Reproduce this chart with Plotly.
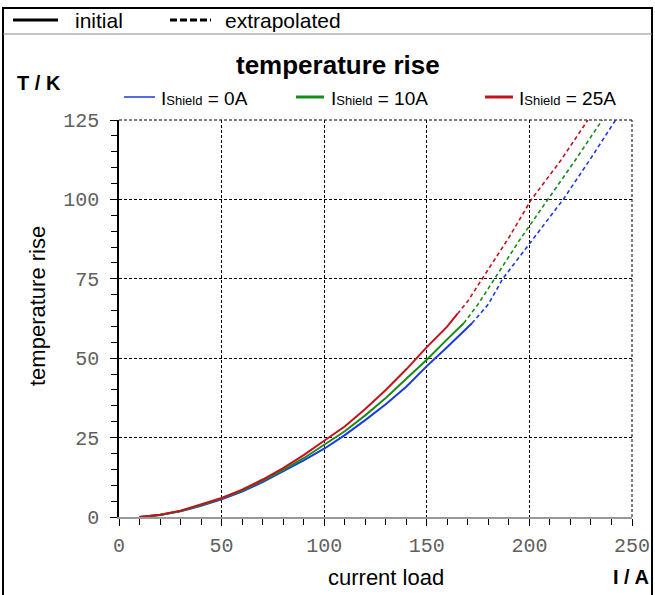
import plotly.graph_objects as go

# ---- data ----
x_init_0 = [10, 20, 30, 40, 50, 60, 70, 80, 90, 100, 110, 120, 130, 140, 150, 160, 172]
y_init_0 = [0, 0.6, 1.8, 3.5, 5.6, 8.0, 11.0, 14.3, 17.8, 21.5, 25.8, 30.5, 35.5, 41.0, 47.5, 53.5, 61.0]
x_extr_0 = [172, 180, 187, 200, 216.5, 230, 242]
y_extr_0 = [61.0, 67.0, 75.0, 86.0, 100.0, 113.0, 125.0]

x_init_10 = [10, 20, 30, 40, 50, 60, 70, 80, 90, 100, 110, 120, 130, 140, 150, 160, 168]
y_init_10 = [0, 0.6, 1.9, 3.7, 5.8, 8.3, 11.4, 14.8, 18.5, 22.7, 27.0, 32.0, 37.5, 43.5, 49.5, 56.0, 61.0]
x_extr_10 = [168, 175, 183, 195, 209, 222, 235.5]
y_extr_10 = [61.0, 67.0, 75.0, 87.0, 100.0, 112.0, 125.0]

x_init_25 = [10, 20, 30, 40, 50, 60, 70, 80, 90, 100, 110, 120, 130, 140, 150, 160, 165]
y_init_25 = [0, 0.7, 2.0, 3.9, 6.0, 8.6, 11.8, 15.4, 19.5, 24.0, 28.5, 34.0, 40.0, 46.5, 53.5, 60.0, 64.0]
x_extr_25 = [165, 170, 177, 190, 201, 215, 228.5]
y_extr_25 = [64.0, 68.0, 75.0, 88.0, 100.0, 112.0, 125.0]

series_names = ["0A", "10A", "25A"]
x_ticks = [0, 50, 100, 150, 200, 250]
y_ticks = [0, 25, 50, 75, 100, 125]

COLORS = ["#1b3be0", "#1a8a1a", "#c4121c"]

W, H = 655, 595
L, R, T, B = 119, 632, 120, 517

def px(x):
    return (x - L) / (R - L)

def py(y):
    return (B - y) / (B - T)

fig = go.Figure()
data = [
    (x_init_0, y_init_0, x_extr_0, y_extr_0),
    (x_init_10, y_init_10, x_extr_10, y_extr_10),
    (x_init_25, y_init_25, x_extr_25, y_extr_25),
]
for (xi, yi, xe, ye), c in zip(data, COLORS):
    fig.add_trace(go.Scatter(x=xe, y=ye, mode="lines", showlegend=False,
                             line=dict(color=c, width=1.6, dash="4px,3px")))
    fig.add_trace(go.Scatter(x=xi, y=yi, mode="lines", showlegend=False,
                             line=dict(color=c, width=2)))

tickfont = dict(family="Liberation Mono", size=20, color="#606060")
fig.update_xaxes(range=[0, 250], tickvals=x_ticks, ticks="outside", ticklen=7,
                 tickcolor="black", showgrid=True, gridcolor="black", griddash="3px,2px",
                 gridwidth=1, showline=True, linecolor="#999999", linewidth=1.5,
                 tickfont=tickfont, zeroline=False, ticklabelstandoff=2, automargin=False,
                 minor=dict(dtick=10, ticks="outside", ticklen=6, tickcolor="black", showgrid=False))
fig.update_yaxes(range=[0, 125], tickvals=y_ticks, ticks="outside", ticklen=7,
                 tickcolor="black", showgrid=True, gridcolor="black", griddash="3px,2px",
                 gridwidth=1, showline=True, linecolor="black", linewidth=1.5,
                 tickfont=tickfont, zeroline=False, ticklabelstandoff=7, automargin=False,
                 minor=dict(dtick=5, ticks="outside", ticklen=6, tickcolor="black", showgrid=False))

shapes = []
# outer frame
shapes.append(dict(type="rect", xref="paper", yref="paper", x0=px(3), x1=px(652), y0=py(8), y1=py(600),
                   line=dict(color="black", width=2), layer="above"))
shapes.append(dict(type="line", xref="paper", yref="paper", x0=px(3), x1=px(652), y0=py(34), y1=py(34),
                   line=dict(color="#888888", width=1)))
# top/right dotted border
shapes.append(dict(type="line", xref="paper", yref="paper", x0=0, x1=1, y0=1, y1=1,
                   line=dict(color="black", width=1, dash="3px,2px")))
shapes.append(dict(type="line", xref="paper", yref="paper", x0=1, x1=1, y0=0, y1=1,
                   line=dict(color="black", width=1, dash="3px,2px")))
# top legend
shapes.append(dict(type="line", xref="paper", yref="paper", x0=px(13), x1=px(58), y0=py(20), y1=py(20),
                   line=dict(color="black", width=3)))
shapes.append(dict(type="line", xref="paper", yref="paper", x0=px(170), x1=px(211), y0=py(20), y1=py(20),
                   line=dict(color="black", width=3, dash="7px,3px")))
# series legend
leg_x = [(124, 155), (296, 324), (485, 513)]
leg_w = [1.5, 3, 3]
for (a, b), c, w in zip(leg_x, COLORS, leg_w):
    shapes.append(dict(type="line", xref="paper", yref="paper", x0=px(a), x1=px(b), y0=py(97), y1=py(97),
                       line=dict(color=c, width=w)))

ann = []
def text(x, y, s, size=16, bold=False, anchor="left", angle=0, font="Liberation Sans"):
    ann.append(dict(xref="paper", yref="paper", x=px(x), y=py(y), text=("<b>%s</b>" % s) if bold else s,
                    showarrow=False, xanchor=anchor, yanchor="middle", textangle=angle,
                    font=dict(family=font, size=size, color="black")))

text(73, 20, "initial", 21)
text(223, 20, "extrapolated", 21)
text(338, 65, "temperature rise", 26, bold=True, anchor="center")
text(15, 83, "T / K", 20, bold=True)
sub = "I<span style='font-size:13px'>Shield</span> = "
text(159, 98, sub + series_names[0], 19)
text(329, 98, sub + series_names[1], 19)
text(517, 98, sub + series_names[2], 19)
text(37, 306, "temperature rise", 22, anchor="center", angle=-90)
text(386, 577, "current load", 22, anchor="center")
text(651, 577, "I / A", 20, bold=True, anchor="right")

fig.update_layout(width=W, height=H, margin=dict(l=L, r=W - R, t=T, b=H - B),
                  plot_bgcolor="white", paper_bgcolor="white", shapes=shapes, annotations=ann,
                  showlegend=False)
fig.write_html("out.html")
